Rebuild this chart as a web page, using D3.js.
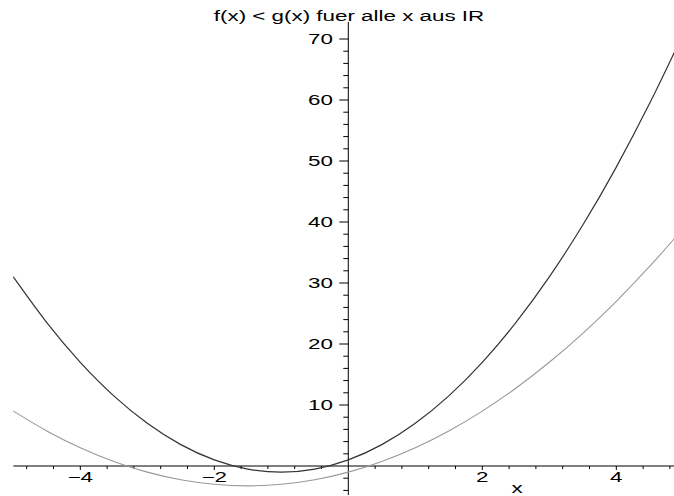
<!DOCTYPE html>
<html><head><meta charset="utf-8">
<script src="https://cdn.jsdelivr.net/npm/d3@7"></script>
<style>
body{margin:0;background:#fff;}
svg{display:block;font-family:"Liberation Sans",Arial,sans-serif;}
</style></head>
<body><svg id="c" width="674" height="496"></svg>
<script>
const title = "f(x) < g(x) fuer alle x aus IR";
const xs = [-5,-4.5,-4,-3.5,-3,-2.5,-2,-1.5,-1,-0.5,0,0.5,1,1.5,2,2.5,3,3.5,4,4.5,4.87];
const gVals = [31,23.5,17,11.5,7,3.5,1,-0.5,-1,-0.5,1,3.5,7,11.5,17,23.5,31,39.5,49,59.5,67.9];
const fVals = [9,5.75,3,0.75,-1,-2.25,-3,-3.25,-3,-2.25,-1,0.75,3,5.75,9,12.75,17,21.75,27,32.75,37.33];
const xMajor = [-4,-2,2,4];
const yMajor = [10,20,30,40,50,60,70];

const svg = d3.select("#c");
const x = d3.scaleLinear().domain([-5,5]).range([13.3,683.3]);
const y = d3.scaleLinear().domain([0,70]).range([466,39]);
const SX = 1.6, FS = 14;

function wideText(sel, tx, ty, anchor, txt){
  sel.append("text").attr("transform",`translate(${tx},${ty}) scale(${SX},1)`)
    .attr("text-anchor",anchor).attr("font-size",FS).text(txt);
}

// axes lines
svg.append("line").attr("x1",x(-5)).attr("x2",674).attr("y1",y(0)).attr("y2",y(0)).attr("stroke","#000").attr("stroke-width",1);
svg.append("line").attr("x1",x(0)).attr("x2",x(0)).attr("y1",y(72.8)).attr("y2",y(-4.75)).attr("stroke","#000").attr("stroke-width",1);

// x ticks
const xMinor = d3.range(-4.8,4.9,0.4).map(v=>+v.toFixed(2)).filter(v=>Math.abs(v)>0.01);
svg.append("g").selectAll("line").data(xMinor).join("line")
  .attr("x1",d=>x(d)).attr("x2",d=>x(d)).attr("y1",y(0))
  .attr("y2",d=>y(0)+(xMajor.some(m=>Math.abs(m-d)<1e-6)?4:3)).attr("stroke","#000");
xMajor.forEach(d=>wideText(svg, x(d), 482, "middle", d<0?"\u2212"+Math.abs(d):String(d)));
wideText(svg, 517, 493, "middle", "x");

// y ticks
const yMinorAll = d3.range(-4,72,2).filter(v=>v!==0);
svg.append("g").selectAll("line").data(yMinorAll).join("line")
  .attr("y1",d=>y(d)).attr("y2",d=>y(d)).attr("x2",x(0))
  .attr("x1",d=>x(0)-(d%10===0?9:5)).attr("stroke","#000");
yMajor.forEach(d=>wideText(svg, 333, y(d)+5, "end", String(d)));

// curves
const line = d3.line().x(d=>x(d[0])).y(d=>y(d[1])).curve(d3.curveNatural);
svg.append("path").datum(xs.map((v,i)=>[v,fVals[i]])).attr("d",line)
  .attr("fill","none").attr("stroke","#999").attr("stroke-width",1.1);
svg.append("path").datum(xs.map((v,i)=>[v,gVals[i]])).attr("d",line)
  .attr("fill","none").attr("stroke","#333").attr("stroke-width",1.2);

wideText(svg, 349, 21, "middle", title);
</script></body></html>
